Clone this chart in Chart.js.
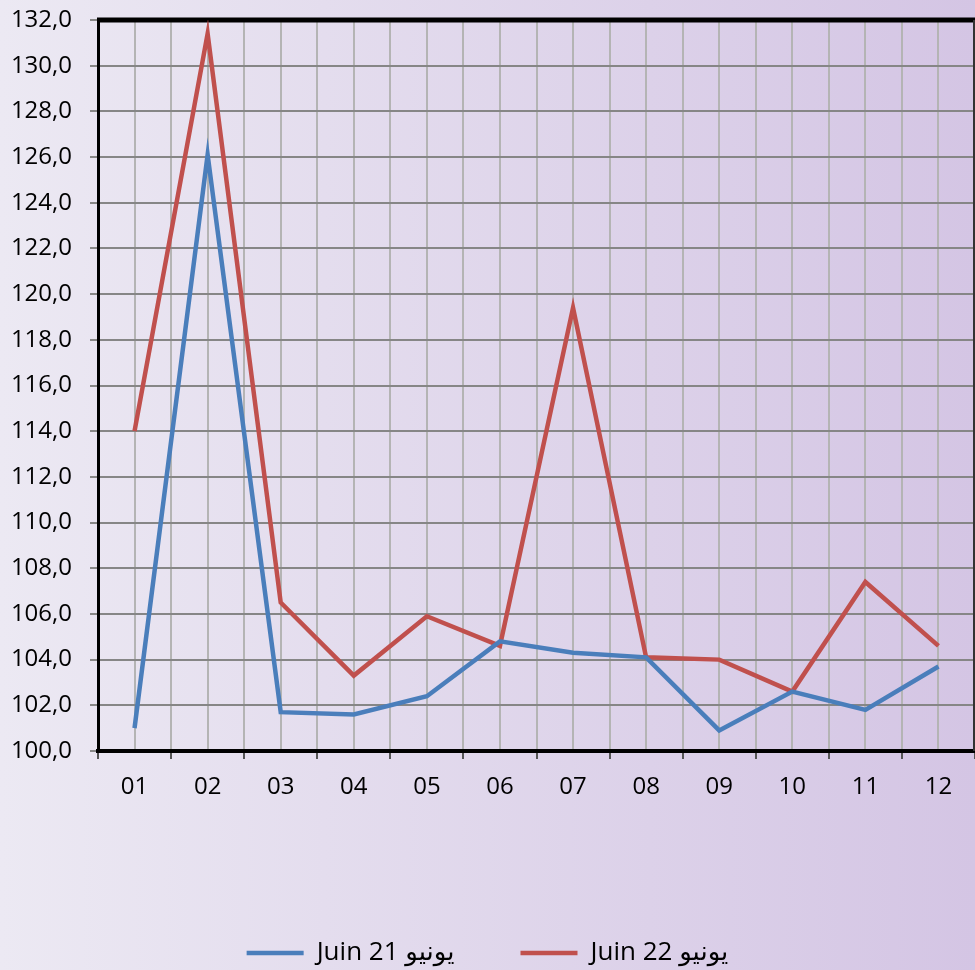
<!DOCTYPE html>
<html>
<head>
<meta charset="utf-8">
<script src="https://cdn.jsdelivr.net/npm/chart.js@4.4.1/dist/chart.umd.min.js"></script>
<style>
    html, body { margin: 0; padding: 0; }
    body { width: 975px; height: 970px; background: linear-gradient(to right, #ece9f3, #d4c5e4); }
</style>
</head>
<body>
<canvas id="myChart" width="975" height="970"></canvas>
<script>
// months on the x axis
const categories = ["01", "02", "03", "04", "05", "06", "07", "08", "09", "10", "11", "12"];
// series values
const juin21 = [101.0, 126.1, 101.7, 101.6, 102.4, 104.8, 104.3, 104.1, 100.9, 102.6, 101.8, 103.7];
const juin22 = [114.0, 131.4, 106.5, 103.3, 105.9, 104.6, 119.4, 104.1, 104.0, 102.6, 107.4, 104.6];
const seriesLabels = ["Juin 21 يونيو", "Juin 22 يونيو"];
const yMin = 100, yMax = 132, yStep = 2;

const FONT = "'Open Sans', 'DejaVu Sans', sans-serif";
const LEGEND_PAD = 66;      // wide gap between the two legend items
const LEGEND_HEIGHT = 96;   // capped so the row sits near the bottom edge

function toPoints(values) {
    return values.map(function (v, i) { return { x: i + 1, y: v }; });
}

// outer frame: thick top line and thin right line
const framePlugin = {
    id: 'frame',
    beforeDatasetsDraw: function (chart) {
        const a = chart.chartArea;
        const ctx = chart.ctx;
        ctx.save();
        ctx.strokeStyle = '#000';
        ctx.lineWidth = 5;
        ctx.beginPath();
        ctx.moveTo(a.left - 1, a.top);
        ctx.lineTo(a.right, a.top);
        ctx.stroke();
        ctx.strokeStyle = '#333';
        ctx.lineWidth = 2;
        ctx.beginPath();
        ctx.moveTo(a.right - 1, a.top);
        ctx.lineTo(a.right - 1, a.bottom);
        ctx.stroke();
        ctx.restore();
    }
};

new Chart(document.getElementById("myChart"), {
    type: 'line',
    data: {
        datasets: [{
            label: seriesLabels[0],
            data: toPoints(juin21),
            borderColor: '#4a7ebb',
            backgroundColor: '#4a7ebb',
            borderWidth: 4.5,
            pointRadius: 0,
            tension: 0
        }, {
            label: seriesLabels[1],
            data: toPoints(juin22),
            borderColor: '#c0504d',
            backgroundColor: '#c0504d',
            borderWidth: 4.5,
            pointRadius: 0,
            tension: 0
        }]
    },
    options: {
        responsive: false,
        animation: false,
        layout: { padding: { top: 20, right: 0, left: 0, bottom: 0 } },
        plugins: {
            tooltip: { enabled: false },
            legend: {
                position: 'bottom',
                maxHeight: LEGEND_HEIGHT,
                labels: {
                    usePointStyle: true,
                    pointStyle: 'line',
                    pointStyleWidth: 57,
                    padding: LEGEND_PAD,
                    color: '#000',
                    font: { family: FONT, size: 26 }
                }
            }
        },
        scales: {
            x: {
                type: 'linear',
                min: 0.5,
                max: categories.length + 0.5,
                afterFit: function (scale) {
                    scale.height = 970 - LEGEND_HEIGHT - 751;
                    scale.paddingLeft = 0;
                    scale.paddingRight = 0;
                },
                ticks: {
                    stepSize: 0.5,
                    maxTicksLimit: 100,
                    autoSkip: false,
                    maxRotation: 0,
                    padding: 14,
                    color: '#000',
                    font: { family: FONT, size: 24 },
                    callback: function (value) {
                        return Number.isInteger(value) ? categories[value - 1] : '';
                    }
                },
                grid: {
                    color: '#b4b4b4',
                    lineWidth: 2,
                    tickLength: 8,
                    tickColor: function (ctx) {
                        return ctx.tick && Number.isInteger(ctx.tick.value) ? 'rgba(0,0,0,0)' : '#555';
                    }
                },
                border: { color: '#000', width: 4 }
            },
            y: {
                min: yMin,
                max: yMax,
                afterFit: function (scale) {
                    scale.width = 98;
                    scale.paddingTop = 0;
                    scale.paddingBottom = 0;
                },
                ticks: {
                    stepSize: yStep,
                    padding: 18,
                    color: '#000',
                    font: { family: FONT, size: 24 },
                    callback: function (value) {
                        return value.toFixed(1).replace('.', ',');
                    }
                },
                grid: {
                    color: '#868686',
                    lineWidth: 2,
                    tickLength: 8,
                    tickColor: '#888'
                },
                border: { color: '#000', width: 3 }
            }
        }
    },
    plugins: [framePlugin]
});
</script>
</body>
</html>
